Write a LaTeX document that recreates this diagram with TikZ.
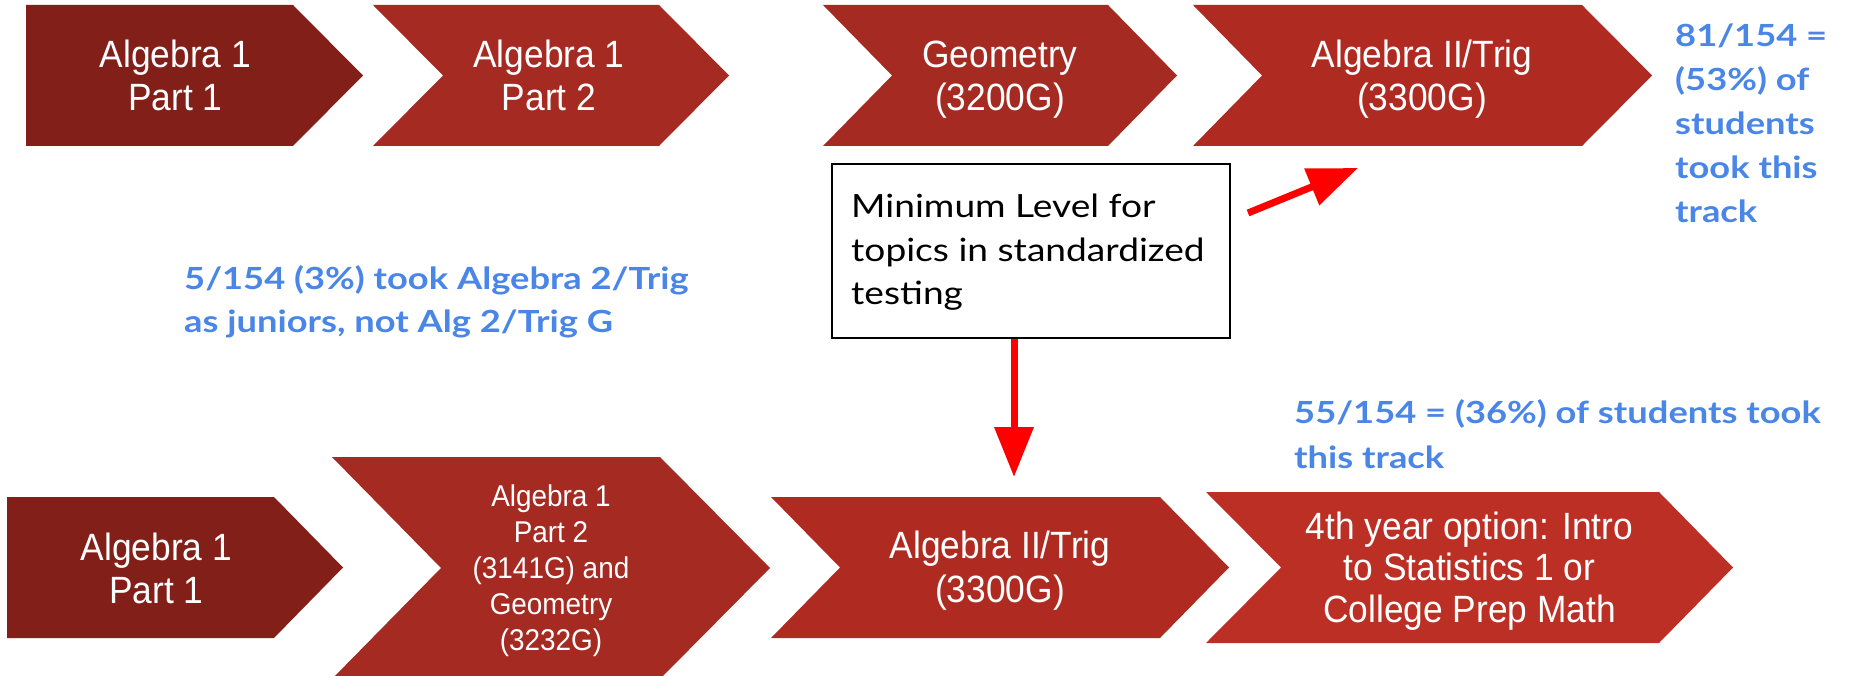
\documentclass[tikz,border=0pt]{standalone}
\usepackage{fontspec}
\usetikzlibrary{arrows.meta}
\newfontfamily\chevfont[FakeStretch=0.93]{Liberation Sans}
\newfontfamily\boxfont[FakeStretch=1.16]{Lato}
\newfontfamily\bluefont[FakeStretch=1.19]{Lato}
\definecolor{cA}{HTML}{821F18}
\definecolor{cB}{HTML}{A52A21}
\definecolor{cD}{HTML}{AF2B22}
\definecolor{cE}{HTML}{BC2F24}
\definecolor{noteblue}{HTML}{4A86E8}
\newcommand{\ctrlines}[1]{\vtop{\halign{\hfil##\hfil\cr#1\crcr}}}
\newcommand{\leftlines}[1]{\vtop{\halign{##\hfil\cr#1\crcr}}}
\tikzset{
  chevtext/.style={anchor=base, text=white, inner sep=0pt, font=\chevfont\fontsize{38}{43}\selectfont},
  bluenote/.style={anchor=base west, text=noteblue, inner sep=0pt, font=\bluefont\bfseries\fontsize{30.5}{44}\selectfont},
  redarrow/.style={draw=red, line width=7pt, -{Triangle[length=50pt,width=38pt]}}
}
\begin{document}
\begin{tikzpicture}[x=1pt,y=-1pt]
\useasboundingbox (0,0) rectangle (1850,676);
% top row
\fill[cA] (26,5) -- (293,5) -- (363,75.5) -- (293,146) -- (26,146) -- cycle;
\fill[cB] (373,5) -- (659,5) -- (729,75.5) -- (659,146) -- (373,146) -- (443,75.5) -- cycle;
\fill[cB] (823,5) -- (1108,5) -- (1177,75.5) -- (1108,146) -- (823,146) -- (892,75.5) -- cycle;
\fill[cD] (1193,5) -- (1582,5) -- (1652,75.5) -- (1582,146) -- (1193,146) -- (1262,75.5) -- cycle;
\node[chevtext] (t1) at (175.5,67.5) {\ctrlines{Algebra 1\cr Part 1}};
\node[chevtext] (t2) at (549,67.5) {\ctrlines{Algebra 1\cr Part 2}};
\node[chevtext] (t3) at (1000,67.5) {\ctrlines{Geometry\cr (3200G)}};
\node[chevtext] (t4) at (1422,67.5) {\ctrlines{Algebra II/Trig\cr (3300G)}};
% bottom row
\fill[cA] (7,497) -- (274,497) -- (343,567.5) -- (274,638) -- (7,638) -- cycle;
\fill[cB] (332,457) -- (660,457) -- (770,568) -- (660,679) -- (332,679) -- (441,568) -- cycle;
\fill[cD] (771,497) -- (1160,497) -- (1229,567.5) -- (1160,638) -- (771,638) -- (840,567.5) -- cycle;
\fill[cE] (1206,492) -- (1659,492) -- (1733,567.5) -- (1659,643) -- (1206,643) -- (1281,567.5) -- cycle;
\node[chevtext] (b1) at (156.5,560) {\ctrlines{Algebra 1\cr Part 1}};
\node[chevtext, font=\chevfont\fontsize{30}{36}\selectfont] (b2) at (551,506) {\ctrlines{Algebra 1\cr Part 2\cr (3141G) and\cr Geometry\cr (3232G)}};
\node[chevtext, font=\chevfont\fontsize{38}{44}\selectfont] (b3) at (1000,558) {\ctrlines{Algebra II/Trig\cr (3300G)}};
\node[chevtext, font=\chevfont\fontsize{38}{41.5}\selectfont] (b4) at (1469.5,539) {\ctrlines{4th year option: Intro\cr to Statistics 1 or\cr College Prep Math}};
% note box
\node[draw=black, line width=2pt, fill=white, minimum width=398pt, minimum height=174pt, inner sep=0pt] (box) at (1031,251) {};
\node[anchor=base west, inner sep=0pt, font=\boxfont\fontsize{32}{43.5}\selectfont] (boxtxt) at (851,218) {\leftlines{Minimum Level for\cr topics in standardized\cr testing}};
% blue notes
\node[bluenote] (n81) at (1675,47) {\leftlines{81/154 =\cr (53\%) of\cr students\cr took this\cr track}};
\node[bluenote, font=\bluefont\bfseries\fontsize{30.5}{43}\selectfont] (n5) at (184,290) {\leftlines{5/154 (3\%) took Algebra 2/Trig\cr as juniors, not Alg 2/Trig G}};
\node[bluenote, font=\bluefont\bfseries\fontsize{30.5}{45}\selectfont] (n55) at (1294,423) {\leftlines{55/154 = (36\%) of students took\cr this track}};
% red arrows
\coordinate (dtip) at (1014,477);
\coordinate (utail) at (1248,213);
\coordinate (utip) at (1358,168);
\draw[redarrow] (box.south -| dtip) -- (dtip);
\draw[redarrow] (utail) -- (utip);
\end{tikzpicture}
\end{document}
